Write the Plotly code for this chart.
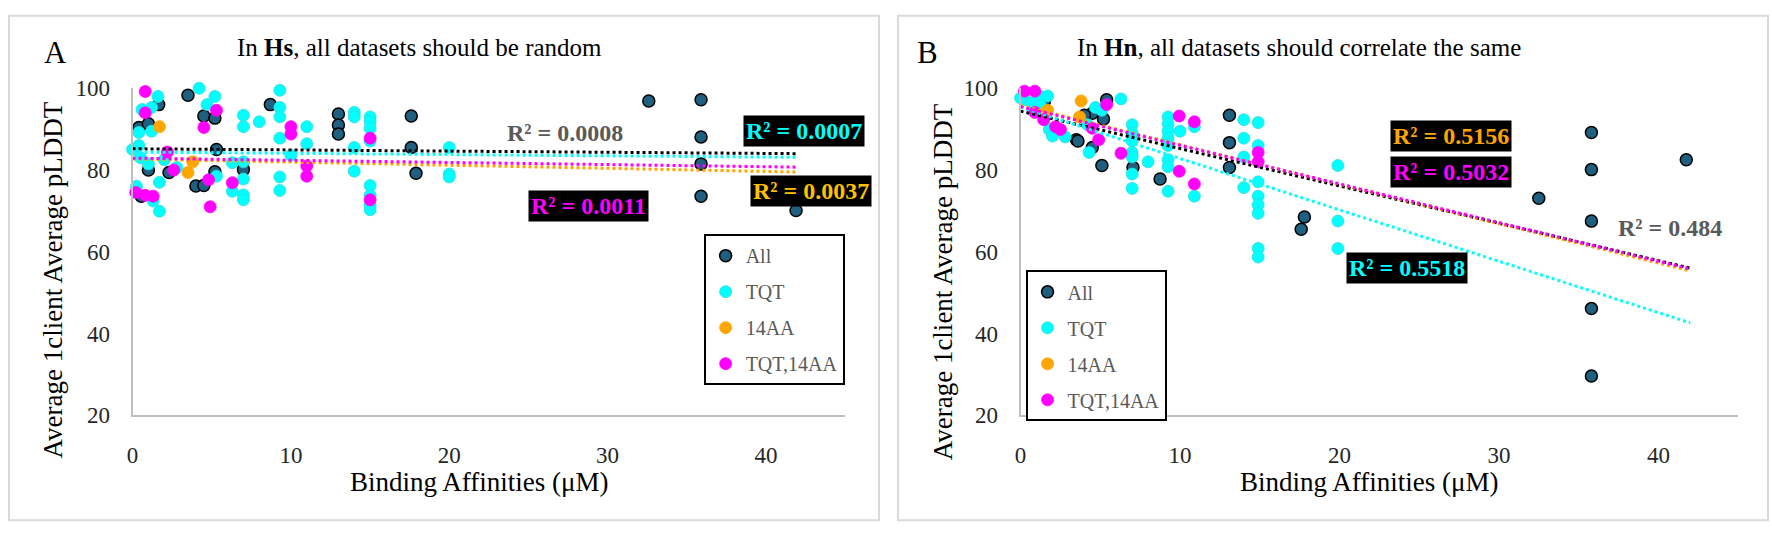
import plotly.graph_objects as go

W, H = 1772, 536
FONT = "Liberation Serif, Times New Roman, serif"

series = ["All", "TQT", "14AA", "TQT,14AA"]
fill_colors = {"All": "#1F5F7F", "TQT": "#00FFFF", "14AA": "#FFA500", "TQT,14AA": "#FF00FF"}
edge_colors = {"All": "#000000", "TQT": "#33DADA", "14AA": "#FFA500", "TQT,14AA": "#FF00FF"}
trend_colors = {"All": "#000000", "TQT": "#00FFFF", "14AA": "#FFA500", "TQT,14AA": "#FF00FF"}

# ---- Panel A (Hs) ----
hs_all_x = [0.4, 1.0, 1.65, 0.55, 1.0, 2.3, 3.5, 4.5, 5.2, 5.3, 5.2, 4.0, 4.5, 7.0, 8.7,
            13, 13, 13, 17.6, 17.6, 17.9, 32.6, 35.9, 35.9, 35.9, 35.9, 41.9]
hs_all_y = [90.4, 91.3, 96, 73.6, 80, 79.4, 98.3, 93.2, 92.7, 85, 79.6, 76.1, 76.2, 80.1, 96,
            93.7, 91, 88.8, 93.2, 85.5, 79.2, 96.9, 97.2, 88.1, 81.5, 73.6, 70.1]
hs_tqt_x = [0, 0.4, 0.6, 1.2, 1.6, 0.4, 1.2, 2.0, 1.0, 0.5, 2.8, 4.2, 4.7, 5.2, 5.3, 1.7, 0.25,
            1.3, 1.7, 6.3, 6.3, 7.0, 7.0, 7.0, 7.0, 7.0, 7.0, 8.0, 9.3, 9.3, 9.3, 9.3, 9.3, 9.3,
            10, 11, 11, 14, 14, 14, 14, 15, 15, 15, 15, 15, 15, 15, 15, 20, 20, 20]
hs_tqt_y = [85, 86, 94.8, 95.3, 98, 89.2, 89.5, 82.5, 81.5, 83, 80.6, 100, 96, 98, 78.5, 77, 76,
            72.4, 69.9, 81.8, 74.8, 82, 77.8, 73.9, 72.7, 93.4, 90.6, 91.8, 99.5, 95.3, 93, 87.8,
            78.3, 75, 83.6, 90.6, 86.4, 94.1, 93, 85.5, 79.7, 93, 91.8, 90.2, 87.1, 76.2, 73.8,
            71.3, 70.3, 85.5, 79, 78.3]
hs_14aa_x = [1.7, 3.8, 3.5]
hs_14aa_y = [90.6, 82, 79.4]
hs_both_x = [0.8, 0.8, 2.2, 2.6, 5.3, 4.5, 4.8, 4.9, 0.2, 0.8, 1.3, 6.3, 10, 10, 11, 11, 15, 15]
hs_both_y = [99.2, 94, 84.4, 80, 94.6, 90.4, 77.6, 71, 74.5, 73.8, 73.6, 76.9, 90.6, 88.8, 81,
             78.5, 87.8, 72.7]

# ---- Panel B (Hn) ----
hn_all_x = [1.5, 3.5, 5.4, 4.5, 4.0, 5.2, 3.6, 4.5, 5.1, 7.05, 8.75, 13.1, 13.1, 13.1, 17.8,
            17.6, 32.5, 35.8, 35.8, 35.8, 35.8, 35.8, 41.75]
hn_all_y = [96.9, 87.4, 97.2, 93.9, 93.4, 92.5, 87.1, 85.5, 81.1, 80.6, 77.8, 93.4, 86.7, 80.6,
            68.5, 65.5, 73.1, 89.2, 80.1, 67.5, 46.1, 29.6, 82.5]
hn_tqt_x = [0.25, 1.2, 1.7, 0.75, 1.25, 0, 2.0, 2.8, 1.8, 2.0, 6.3, 4.7, 5.1, 4.2, 4.3, 7.0, 7.0,
            7.0, 7.0, 7.0, 7.0, 7.0, 8.0, 9.25, 9.25, 9.25, 9.25, 9.25, 9.25, 9.25, 9.25, 10,
            10.9, 10.9, 14, 14, 14, 14, 14.9, 14.9, 14.9, 14.9, 14.9, 14.9, 14.9, 14.9, 19.9,
            19.9, 19.9]
hn_tqt_y = [97.2, 98.1, 98.1, 96.5, 95.7, 97.6, 89, 88.1, 89.9, 88.3, 97.4, 95.3, 94.6, 91.1,
            84.3, 91.1, 89, 87.1, 84.3, 83.2, 79, 75.5, 82, 93, 91.3, 89.5, 87.8, 86, 82.5, 80.8,
            74.8, 89.5, 90.6, 73.6, 92.3, 87.8, 83.2, 75.7, 91.6, 86, 77.1, 73.6, 71.5, 69.4,
            60.8, 58.7, 81.1, 67.5, 60.8]
hn_14aa_x = [1.7, 3.8, 3.7]
hn_14aa_y = [94.6, 96.9, 93]
hn_both_x = [0.25, 0.9, 0.9, 1.45, 2.2, 2.5, 5.4, 4.5, 4.9, 6.3, 9.95, 9.95, 10.9, 10.9, 14.9, 14.9]
hn_both_y = [99.3, 99.3, 94.1, 92.3, 90.6, 89.9, 96, 90.2, 87.4, 84.1, 93.2, 79.7, 91.8, 76.6,
             84.3, 82]

# linear trendlines (value at x=0 and x=42)
trend_x = [0, 42]
hs_trend = {"All": [85.2, 84.0], "TQT": [84.4, 83.1], "14AA": [82.7, 79.5], "TQT,14AA": [82.9, 80.7]}
hn_trend = {"All": [94.4, 56.0], "TQT": [95.4, 42.6], "14AA": [95.8, 55.3], "TQT,14AA": [95.5, 55.8]}

hs_r2 = ["R² = 0.0008", "R² = 0.0007", "R² = 0.0037", "R² = 0.0011"]
hn_r2 = ["R² = 0.484", "R² = 0.5518", "R² = 0.5156", "R² = 0.5032"]

panels = [
    ("x", "y", "legend", {
        "All": (hs_all_x, hs_all_y), "TQT": (hs_tqt_x, hs_tqt_y),
        "14AA": (hs_14aa_x, hs_14aa_y), "TQT,14AA": (hs_both_x, hs_both_y)}, hs_trend),
    ("x2", "y2", "legend2", {
        "All": (hn_all_x, hn_all_y), "TQT": (hn_tqt_x, hn_tqt_y),
        "14AA": (hn_14aa_x, hn_14aa_y), "TQT,14AA": (hn_both_x, hn_both_y)}, hn_trend),
]


def px(v):
    return v / W


def py(v):
    return 1 - v / H


fig = go.Figure()

for xa, ya, leg, pts, trend in panels:
    for s in series:
        xs, ys = pts[s]
        fig.add_trace(go.Scatter(
            x=xs, y=ys, mode="markers", name=s, xaxis=xa, yaxis=ya,
            legend=leg, legendgroup=leg + s,
            marker=dict(size=12, color=fill_colors[s],
                        line=dict(color=edge_colors[s], width=1.5 if s == "All" else 0.8)),
            cliponaxis=False,
        ))
    for s in series:
        fig.add_trace(go.Scatter(
            x=trend_x, y=trend[s], mode="lines", xaxis=xa, yaxis=ya, showlegend=False,
            line=dict(color=trend_colors[s], width=3, dash="dot"), hoverinfo="skip",
        ))

axis_common = dict(showgrid=False, zeroline=False, showline=True, linecolor="#BFBFBF",
                   linewidth=2, ticks="", tickfont=dict(family=FONT, size=23, color="#262626"))

fig.update_layout(
    width=W, height=H, margin=dict(l=0, r=0, t=0, b=0),
    paper_bgcolor="white", plot_bgcolor="white",
    font=dict(family=FONT, color="#000000"),
    xaxis=dict(domain=[px(127), px(842)], range=[0, 45], dtick=10, anchor="y",
               ticklabelstandoff=18, **axis_common),
    yaxis=dict(domain=[py(423), py(80)], range=[20, 100], dtick=20, anchor="x",
               ticklabelstandoff=16, **axis_common),
    xaxis2=dict(domain=[px(1018), px(1738)], range=[0, 45], dtick=10, anchor="y2",
                ticklabelstandoff=18, **axis_common),
    yaxis2=dict(domain=[py(423), py(80)], range=[20, 100], dtick=20, anchor="x2",
                ticklabelstandoff=16, **axis_common),
    legend=dict(x=px(700), y=py(233), xanchor="left", yanchor="top", bgcolor="white",
                bordercolor="#000000", borderwidth=2, tracegroupgap=7,
                font=dict(family=FONT, size=20, color="#595959")),
    legend2=dict(x=px(1023), y=py(271), xanchor="left", yanchor="top", bgcolor="white",
                 bordercolor="#000000", borderwidth=2, tracegroupgap=7,
                 font=dict(family=FONT, size=20, color="#595959")),
    showlegend=True,
)

# panel frames
for x0, x1 in [(3, 876), (895, 1768)]:
    fig.add_shape(type="rect", xref="paper", yref="paper", x0=px(x0), x1=px(x1),
                  y0=py(533), y1=py(4), line=dict(color="#D9D9D9", width=2), layer="below")

ann = []
# panel letters and titles
ann.append(dict(x=px(50), y=py(42), text="A", font=dict(size=31)))
ann.append(dict(x=px(925), y=py(42), text="B", font=dict(size=31)))
ann.append(dict(x=px(230), y=py(37), text="In <b>Hs</b>, all datasets should be random",
                xanchor="left", font=dict(size=25)))
ann.append(dict(x=px(1073), y=py(37), text="In <b>Hn</b>, all datasets should correlate the same",
                xanchor="left", font=dict(size=25)))
# axis titles
for xl, yb in [(47, 470), (941, 472)]:
    ann.append(dict(x=px(xl), y=py(yb), text="Average 1client Average pLDDT", textangle=-90,
                    yanchor="bottom", font=dict(size=27)))
for xl in [343, 1236]:
    ann.append(dict(x=px(xl), y=py(493), text="Binding Affinities (μM)", xanchor="left",
                    font=dict(size=27)))

# R² labels
r2_pos_a = [(561, 127), (801, 125), (808, 188), (584, 203)]
r2_pos_b = [(1670, 227), (1406, 269), (1450, 130), (1450, 168)]
label_colors_a = ["#595959", "#00FFFF", "#FFC000", "#FF00FF"]
label_colors_b = ["#595959", "#00FFFF", "#FFA500", "#FF00FF"]
for texts, pos, cols in [(hs_r2, r2_pos_a, label_colors_a), (hn_r2, r2_pos_b, label_colors_b)]:
    for i, (t, (ax_, ay_), c) in enumerate(zip(texts, pos, cols)):
        ann.append(dict(x=px(ax_), y=py(ay_), text="<b>" + t + "</b>",
                        font=dict(size=24, color=c),
                        bgcolor=None if i == 0 else "#000000", borderpad=2))

for a in ann:
    a.setdefault("xref", "paper")
    a.setdefault("yref", "paper")
    a.setdefault("showarrow", False)
    a.setdefault("xanchor", "center")
    a.setdefault("yanchor", "middle")
    f = a.get("font", {})
    f.setdefault("family", FONT)
    f.setdefault("color", "#000000")
    a["font"] = f
    if a.get("bgcolor") is None:
        a.pop("bgcolor", None)
    fig.add_annotation(**a)

fig.write_html("out.html", config={"displayModeBar": False},
               post_script="document.body.style.margin='0';")
